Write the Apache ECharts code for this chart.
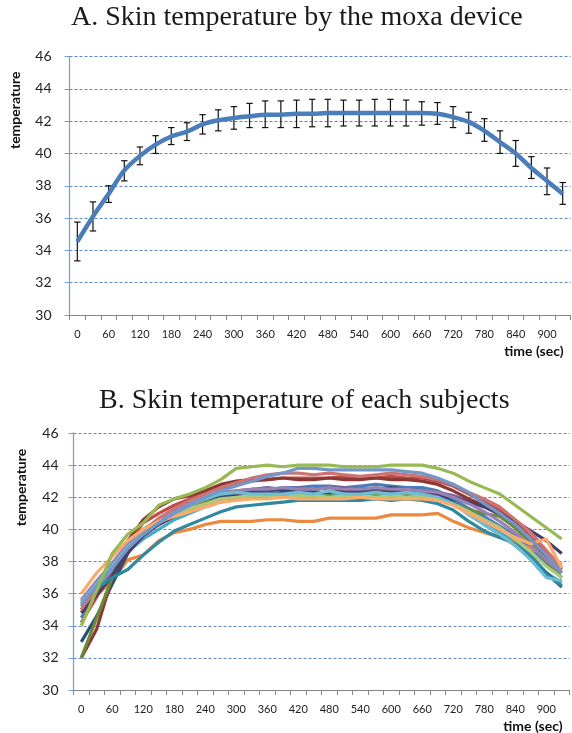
<!DOCTYPE html>
<html><head><meta charset="utf-8">
<script src="https://cdn.jsdelivr.net/npm/echarts@6/dist/echarts.min.js"></script>
<style>html,body{margin:0;padding:0;background:#fff}#c{width:572px;height:733px}</style>
</head><body><div id="c"></div>
<script>
// ---- data ----
const timeCats = ['0','30','60','90','120','150','180','210','240','270','300','330','360','390','420','450','480','510','540','570','600','630','660','690','720','750','780','810','840','870','900','930'];
const yTicks = [30,32,34,36,38,40,42,44,46];

// Chart A: mean skin temperature with error bar ends
const meanA = [34.55,36.1,37.5,38.95,39.85,40.55,41.05,41.35,41.8,42.05,42.2,42.3,42.4,42.4,42.45,42.45,42.5,42.5,42.5,42.5,42.5,42.5,42.5,42.45,42.25,41.95,41.4,40.7,40.0,39.1,38.3,37.5];
const upperA = [35.75,37.0,38.0,39.55,40.4,41.1,41.6,41.9,42.4,42.7,42.9,43.1,43.25,43.25,43.3,43.35,43.35,43.3,43.3,43.35,43.35,43.3,43.2,43.15,42.9,42.55,42.15,41.4,40.8,39.8,39.1,38.2];
const lowerA = [33.35,35.2,36.97,38.3,39.3,40.0,40.55,40.8,41.2,41.4,41.5,41.6,41.6,41.6,41.6,41.65,41.65,41.7,41.7,41.7,41.7,41.7,41.75,41.8,41.6,41.25,40.75,40.0,39.2,38.45,37.45,36.85];

// Chart B: each subject
const subjBlue      = [34.5,35.9,37.3,38.8,39.9,40.5,41.0,41.4,41.8,42.0,42.2,42.3,42.4,42.6,42.6,42.7,42.7,42.6,42.7,42.8,42.7,42.6,42.6,42.4,41.9,41.3,40.8,40.2,39.6,38.8,37.9,37.0];
const subjRed       = [34.2,35.8,37.5,39.2,40.4,41.0,41.5,41.9,42.3,42.6,42.8,43.0,43.1,43.2,43.2,43.2,43.2,43.3,43.2,43.2,43.3,43.2,43.2,43.0,42.7,42.2,41.7,41.2,40.5,39.5,38.6,37.6];
const subjPurple    = [35.0,36.3,37.6,38.9,39.8,40.3,40.9,41.3,41.8,42.2,42.4,42.5,42.6,42.5,42.6,42.5,42.6,42.6,42.5,42.5,42.6,42.5,42.4,42.3,42.1,41.8,41.4,40.9,40.1,39.3,38.4,37.5];
const subjAqua      = [35.2,36.4,37.5,38.6,39.4,40.0,40.6,41.0,41.4,41.7,41.9,42.0,42.1,42.2,42.1,42.2,42.1,42.2,42.3,42.1,42.2,42.3,42.2,42.0,41.7,41.0,40.4,39.8,39.2,38.4,37.3,36.7];
const subjOrange    = [35.7,35.9,36.8,38.1,38.4,39.3,39.8,40.0,40.3,40.5,40.5,40.5,40.6,40.6,40.5,40.5,40.7,40.7,40.7,40.7,40.9,40.9,40.9,41.0,40.5,40.1,39.8,39.5,39.2,38.8,38.4,37.8];
const subjDarkBlue  = [33.0,34.6,36.6,38.5,39.7,40.4,40.9,41.3,41.8,42.1,42.3,42.4,42.4,42.5,42.4,42.5,42.6,42.5,42.5,42.5,42.6,42.5,42.4,42.2,41.7,41.0,40.3,39.7,39.0,38.2,37.3,36.4];
const subjDarkRed   = [32.0,33.8,37.0,39.3,40.6,41.4,41.9,42.1,42.4,42.8,43.0,43.1,43.1,43.2,43.1,43.1,43.2,43.1,43.1,43.2,43.1,43.1,43.0,42.8,42.4,41.9,41.5,41.0,40.2,39.2,38.3,37.3];
const subjOlive     = [32.0,34.5,37.0,38.9,40.0,40.6,41.0,41.4,41.7,41.9,42.0,42.1,42.0,42.1,42.0,42.0,42.1,42.0,42.0,42.1,42.0,42.1,42.0,41.9,41.6,41.2,41.0,40.8,40.1,39.2,38.0,37.0];
const subjDarkPurp  = [34.8,35.9,37.1,38.6,39.6,40.3,40.8,41.2,41.6,41.9,42.1,42.2,42.2,42.3,42.3,42.3,42.3,42.4,42.3,42.3,42.4,42.3,42.3,42.2,42.0,41.7,41.4,41.0,40.5,39.9,39.3,38.5];
const subjTeal      = [35.5,36.3,37.0,37.5,38.4,39.2,39.9,40.3,40.7,41.1,41.4,41.5,41.6,41.7,41.8,41.8,41.8,41.8,41.8,41.9,41.8,41.9,41.8,41.6,41.2,40.5,39.9,39.5,39.1,38.4,37.2,36.5];
const subjLightBlue = [35.3,36.5,37.6,38.8,39.7,40.4,41.0,41.5,42.0,42.4,42.7,43.0,43.3,43.5,43.8,43.8,43.7,43.7,43.7,43.7,43.7,43.6,43.5,43.2,42.8,42.3,41.6,41.0,40.3,39.4,38.4,37.3];
const subjSalmon    = [35.0,36.4,37.8,39.0,39.9,40.7,41.3,41.8,42.2,42.6,42.9,43.2,43.4,43.5,43.5,43.4,43.5,43.4,43.3,43.4,43.5,43.4,43.3,43.1,42.8,42.3,41.9,41.4,40.6,39.8,38.7,37.6];
const subjLightGrn  = [35.5,36.7,37.8,39.0,39.8,40.4,40.9,41.3,41.6,41.9,42.0,42.1,42.1,42.0,42.1,42.1,42.0,42.1,42.1,42.0,42.1,42.0,42.1,41.9,41.6,41.1,40.6,40.1,39.4,38.6,37.7,37.0];
const subjLightPurp = [35.6,36.8,37.9,39.1,39.9,40.5,41.1,41.6,42.0,42.3,42.4,42.5,42.5,42.6,42.5,42.5,42.6,42.5,42.5,42.6,42.5,42.5,42.4,42.3,42.0,41.6,41.1,40.5,39.8,39.0,38.1,37.3];
const subjLightAqua = [35.4,36.6,37.7,38.9,39.7,40.4,41.0,41.5,41.9,42.2,42.3,42.2,42.2,42.2,42.3,42.2,42.4,42.2,42.2,42.3,42.2,42.3,42.2,42.0,41.6,40.9,40.3,39.7,39.0,38.1,37.0,36.8];
const subjPeach     = [36.0,37.3,38.3,39.3,40.0,40.5,40.8,41.1,41.4,41.7,41.8,41.9,41.9,42.0,41.9,41.9,41.9,41.9,42.0,41.9,41.9,41.9,41.9,41.8,41.5,41.0,40.5,40.0,39.5,39.1,39.4,37.6];
const subjGreen     = [34.0,36.2,38.5,39.7,40.4,41.5,41.9,42.2,42.6,43.1,43.8,43.9,44.0,43.9,44.0,44.0,44.0,43.9,43.9,43.9,44.0,44.0,44.0,43.8,43.5,43.0,42.6,42.2,41.5,40.8,40.1,39.4];

const subjects = [
  [subjBlue,'#4A7EBB'],[subjRed,'#BE4B48'],[subjPurple,'#7D60A0'],[subjAqua,'#46AAC5'],
  [subjOrange,'#EB8A3F'],[subjDarkBlue,'#2C4D75'],[subjDarkRed,'#8C3836'],[subjOlive,'#6B8A37'],
  [subjDarkPurp,'#4D3B62'],[subjTeal,'#2F89A0'],[subjSalmon,'#CD7371'],[subjLightGrn,'#AFC97A'],
  [subjLightPurp,'#9983B5'],[subjLightAqua,'#6FBDD1'],[subjPeach,'#F9AB6B'],[subjLightBlue,'#7297CB'],
  [subjGreen,'#98B954']
];

// ---- chart ----
const chart = echarts.init(document.getElementById('c'), null, {renderer:'canvas'});
const labelFont = 'Lato';
const gridColor = '#5A86C0';

function yAxisCfg(gridIndex, margin, nameGap, shift){
  return {
    type:'value', gridIndex, min:30, max:46, interval:2,
    axisLine:{show:true, lineStyle:{color:'#7AA0D4', width:1.3}},
    axisTick:{show:true, length:5, lineStyle:{color:'#7AA0D4'}},
    axisLabel:{fontFamily:labelFont, fontSize:14, color:'#222', margin},
    splitLine:{show:true, lineStyle:{color:gridColor, type:[3,2], width:1}},
    name:'temperature', nameLocation:'middle', nameRotate:90, nameGap,
    nameTextStyle:{fontFamily:labelFont, fontWeight:'bold', fontSize:14, color:'#111', padding:[0,0,0,shift]}
  };
}
function xAxisCfg(gridIndex, margin){
  return {
    type:'category', gridIndex, data:timeCats, boundaryGap:true,
    axisLine:{show:true, lineStyle:{color:'#868686', width:1}},
    axisTick:{show:true, interval:0, length:5, lineStyle:{color:'#868686'}},
    axisLabel:{interval:1, fontFamily:labelFont, fontSize:11, color:'#222', margin},
    splitLine:{show:false},
    name:'time (sec)', nameLocation:'end', nameGap:-7,
    nameTextStyle:{fontFamily:labelFont, fontWeight:'bold', fontSize:14, color:'#111', align:'right', verticalAlign:'top', padding:[29,0,0,0]}
  };
}

const errData = meanA.map((m,i)=>[i, lowerA[i], upperA[i]]);

const series = [
  {
    type:'custom', xAxisIndex:0, yAxisIndex:0, z:3,
    data: errData, encode:{x:0, y:[1,2]},
    renderItem:function(params, api){
      const i = api.value(0);
      const lo = api.coord([i, api.value(1)]);
      const hi = api.coord([i, api.value(2)]);
      const hw = 3.2;
      const st = {stroke:'#111', lineWidth:1.2};
      return {type:'group', children:[
        {type:'line', shape:{x1:lo[0],y1:lo[1],x2:hi[0],y2:hi[1]}, style:st},
        {type:'line', shape:{x1:lo[0]-hw,y1:lo[1],x2:lo[0]+hw,y2:lo[1]}, style:st},
        {type:'line', shape:{x1:hi[0]-hw,y1:hi[1],x2:hi[0]+hw,y2:hi[1]}, style:st}
      ]};
    }
  },
  {
    type:'line', xAxisIndex:0, yAxisIndex:0, z:4, data:meanA, smooth:0.3,
    showSymbol:false, lineStyle:{color:'#4A7EBB', width:4.5}
  }
];
subjects.forEach(([arr,col])=>{
  series.push({type:'line', xAxisIndex:1, yAxisIndex:1, data:arr, showSymbol:false,
    lineStyle:{color:col, width:3.2}, itemStyle:{color:col}});
});

chart.setOption({
  animation:false,
  backgroundColor:'#fff',
  title:[
    {text:'A. Skin temperature by the moxa device', left:71, top:4, padding:0,
     textStyle:{fontFamily:'Liberation Serif', fontSize:28, fontWeight:'normal', color:'#1a1a1a'}},
    {text:'B. Skin temperature of each subjects', left:99, top:387, padding:0,
     textStyle:{fontFamily:'Liberation Serif', fontSize:28, fontWeight:'normal', color:'#1a1a1a'}}
  ],
  grid:[
    {left:69.5, right:1.5, top:56.5, height:258.5},
    {left:73.5, right:2.5, top:433, height:257}
  ],
  xAxis:[xAxisCfg(0,14), xAxisCfg(1,14)],
  yAxis:[yAxisCfg(0,18,47,151), yAxisCfg(1,15,45,148)],
  series
});
</script></body></html>
